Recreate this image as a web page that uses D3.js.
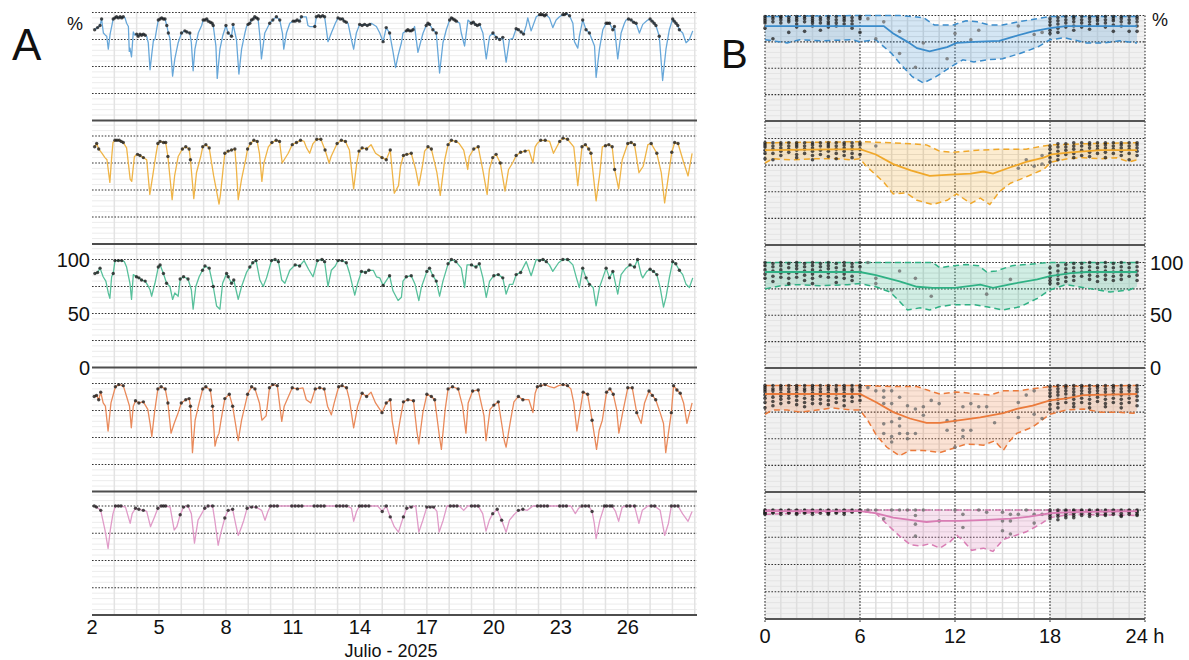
<!DOCTYPE html>
<html><head><meta charset="utf-8">
<script src="https://cdn.jsdelivr.net/npm/d3@7"></script>
<style>body{margin:0;background:#fff;}svg{display:block;font-family:"Liberation Sans",Arial,sans-serif;}</style>
</head><body>
<svg id="c" width="1189" height="660"></svg>
<script>
// ---------------- DATA ----------------
const xTicksA = [2,5,8,11,14,17,20,23,26];
const xTicksB = [0,6,12,18,24];
const xTickLabelsB = ["0","6","12","18","24 h"];
const yTicks = [0,50,100];
const xTitleA = "Julio - 2025";

// Panel A: [day of July, %]
const blueA = [[2.12,84],[2.25,86],[2.36,88],[2.43,94],[2.51,81],[2.60,79],[2.66,78],[2.73,66],[2.81,80],[2.88,87],[2.95,94],[3.03,95],[3.10,96],[3.18,95],[3.26,96],[3.33,95],[3.40,96],[3.48,95],[3.55,90],[3.63,87],[3.67,64],[3.70,67],[3.77,59],[3.85,82],[3.92,79],[4.00,80],[4.07,78],[4.15,80],[4.22,79],[4.30,80],[4.38,79],[4.45,78],[4.52,72],[4.60,47],[4.67,60],[4.75,74],[4.82,75],[4.90,85],[4.97,93],[5.05,94],[5.12,95],[5.20,94],[5.27,94],[5.35,88],[5.42,81],[5.49,76],[5.61,41],[5.71,57],[5.86,72],[6.01,81],[6.16,83],[6.25,82],[6.38,81],[6.45,72],[6.53,46],[6.61,66],[6.76,81],[6.91,88],[6.98,93],[7.06,93],[7.14,94],[7.21,92],[7.30,91],[7.38,90],[7.43,88],[7.55,69],[7.61,39],[7.73,66],[7.85,78],[8.00,88],[8.10,81],[8.25,78],[8.32,89],[8.47,75],[8.58,43],[8.70,66],[8.85,81],[8.92,87],[8.99,89],[9.07,90],[9.14,93],[9.22,94],[9.29,96],[9.37,95],[9.44,94],[9.52,78],[9.59,57],[9.74,81],[9.96,90],[10.10,93],[10.26,96],[10.41,93],[10.53,81],[10.59,66],[10.71,81],[10.86,90],[11.01,92],[11.10,92],[11.19,93],[11.29,92],[11.38,96],[11.60,96],[11.67,88],[11.75,87],[11.90,87],[11.98,87],[12.05,96],[12.15,97],[12.23,96],[12.33,97],[12.42,96],[12.50,84],[12.57,73],[12.72,81],[12.90,90],[13.02,95],[13.12,94],[13.22,94],[13.30,92],[13.39,91],[13.47,90],[13.62,75],[13.72,66],[13.84,81],[13.99,89],[14.10,88],[14.21,89],[14.33,88],[14.44,89],[14.51,90],[14.74,87],[14.89,81],[15.04,73],[15.18,86],[15.33,81],[15.48,64],[15.60,49],[15.71,60],[15.86,72],[15.93,81],[16.08,83],[16.15,84],[16.23,83],[16.30,83],[16.38,84],[16.45,87],[16.60,63],[16.75,75],[16.83,81],[16.97,88],[17.05,90],[17.12,89],[17.27,84],[17.42,81],[17.57,44],[17.72,72],[17.87,84],[18.02,93],[18.10,95],[18.17,94],[18.25,93],[18.32,92],[18.47,90],[18.54,81],[18.69,69],[18.84,93],[18.99,90],[19.08,91],[19.17,89],[19.26,88],[19.36,89],[19.51,81],[19.66,57],[19.81,78],[19.96,81],[20.11,77],[20.26,75],[20.40,77],[20.55,54],[20.70,75],[20.85,76],[21.00,85],[21.10,84],[21.22,82],[21.33,80],[21.45,88],[21.52,95],[21.67,83],[21.90,96],[22.05,98],[22.12,98],[22.19,98],[22.27,97],[22.34,98],[22.49,95],[22.64,86],[22.79,93],[22.94,96],[23.09,98],[23.16,98],[23.24,99],[23.39,97],[23.54,90],[23.61,73],[23.76,67],[23.83,78],[23.98,93],[24.13,84],[24.28,81],[24.51,69],[24.58,40],[24.73,66],[24.88,84],[25.03,90],[25.10,90],[25.18,90],[25.33,84],[25.40,87],[25.55,57],[25.70,81],[25.85,90],[25.92,93],[26.03,94],[26.15,93],[26.26,91],[26.37,90],[26.52,81],[26.67,89],[26.89,93],[27.00,94],[27.09,92],[27.18,90],[27.26,88],[27.41,78],[27.56,37],[27.71,66],[27.86,84],[28.01,94],[28.08,92],[28.16,90],[28.24,88],[28.31,84],[28.46,81],[28.61,72],[28.76,75],[28.91,83]];

const orangeA = [[2.12,90],[2.21,93],[2.30,88],[2.45,84],[2.58,80],[2.67,78],[2.80,57],[2.88,80],[2.94,94],[3.03,96],[3.12,96],[3.22,96],[3.31,95],[3.40,94],[3.55,89],[3.71,60],[3.78,58],[3.90,81],[4.04,83],[4.15,82],[4.30,80],[4.45,78],[4.59,46],[4.72,63],[4.85,81],[4.95,93],[5.05,95],[5.20,94],[5.30,94],[5.40,81],[5.50,60],[5.59,41],[5.70,63],[5.86,81],[6.05,88],[6.20,90],[6.35,88],[6.41,78],[6.56,42],[6.68,66],[6.87,81],[6.96,90],[7.10,92],[7.25,89],[7.45,63],[7.69,37],[7.75,45],[7.87,69],[7.95,84],[8.10,86],[8.25,87],[8.40,88],[8.47,69],[8.55,41],[8.70,60],[8.88,78],[8.97,88],[9.10,93],[9.25,96],[9.40,95],[9.50,84],[9.61,58],[9.70,75],[9.90,90],[10.06,94],[10.25,96],[10.40,95],[10.52,75],[10.61,78],[10.79,84],[10.97,92],[11.16,94],[11.34,96],[11.50,95],[11.61,89],[11.75,84],[11.90,93],[12.07,97],[12.25,97],[12.44,87],[12.62,75],[12.71,81],[12.98,93],[13.17,96],[13.35,95],[13.53,87],[13.72,51],[13.86,75],[13.96,86],[14.10,89],[14.30,88],[14.50,92],[14.70,84],[14.99,80],[15.18,78],[15.36,87],[15.54,47],[15.73,54],[15.82,72],[15.95,82],[16.10,83],[16.30,84],[16.50,69],[16.64,54],[16.80,72],[16.90,86],[17.05,90],[17.20,88],[17.45,66],[17.60,45],[17.80,78],[17.95,92],[18.10,96],[18.30,95],[18.45,93],[18.65,87],[18.83,69],[18.90,81],[19.10,88],[19.30,90],[19.50,69],[19.70,46],[19.80,69],[19.95,80],[20.10,83],[20.29,75],[20.50,49],[20.66,69],[20.84,75],[21.00,82],[21.20,85],[21.40,86],[21.57,87],[21.75,75],[21.85,90],[21.94,93],[22.10,96],[22.30,96],[22.50,95],[22.67,84],[22.95,95],[23.10,98],[23.30,97],[23.58,90],[23.76,54],[23.95,90],[24.10,92],[24.25,88],[24.35,84],[24.58,40],[24.75,66],[24.86,90],[25.00,91],[25.15,92],[25.30,90],[25.41,69],[25.59,51],[25.75,78],[26.00,93],[26.15,94],[26.30,92],[26.50,66],[26.69,72],[26.90,92],[27.05,93],[27.30,84],[27.50,66],[27.65,38],[27.78,57],[27.97,85],[28.10,94],[28.25,93],[28.51,75],[28.70,63],[28.88,84]];

const greenA = [[2.13,87],[2.25,88],[2.36,92],[2.50,84],[2.62,80],[2.73,69],[2.80,64],[2.88,84],[2.95,87],[3.03,99],[3.18,99],[3.33,99],[3.45,98],[3.55,93],[3.70,78],[3.77,63],[3.85,86],[3.99,84],[4.10,83],[4.22,81],[4.38,80],[4.50,76],[4.60,72],[4.67,66],[4.82,78],[4.97,93],[5.05,95],[5.20,87],[5.34,78],[5.49,75],[5.61,63],[5.71,69],[5.86,66],[5.95,82],[6.10,84],[6.30,82],[6.45,72],[6.53,54],[6.65,75],[6.80,84],[6.95,90],[7.06,94],[7.25,92],[7.43,75],[7.58,57],[7.73,54],[7.85,78],[8.03,87],[8.10,84],[8.25,78],[8.35,81],[8.55,63],[8.70,75],[8.92,88],[9.07,93],[9.20,97],[9.35,99],[9.52,81],[9.67,75],[9.82,83],[10.04,99],[10.20,100],[10.35,98],[10.50,81],[10.64,78],[10.86,90],[11.10,95],[11.30,94],[11.50,99],[11.70,91],[11.90,84],[12.10,99],[12.30,100],[12.42,98],[12.57,75],[12.72,90],[12.90,94],[13.02,99],[13.20,99],[13.39,97],[13.54,87],[13.77,67],[13.90,78],[14.07,89],[14.25,88],[14.40,90],[14.60,90],[14.74,84],[14.89,83],[15.04,76],[15.33,85],[15.48,71],[15.71,62],[15.86,65],[15.93,80],[16.08,84],[16.30,85],[16.47,77],[16.64,62],[16.75,74],[17.00,89],[17.12,92],[17.27,85],[17.42,80],[17.57,66],[17.72,80],[17.95,96],[18.10,100],[18.30,98],[18.54,92],[18.69,74],[18.80,95],[19.00,95],[19.20,93],[19.35,96],[19.51,83],[19.66,65],[19.81,80],[20.00,85],[20.20,86],[20.40,83],[20.55,68],[20.70,77],[20.85,77],[21.00,86],[21.20,88],[21.45,98],[21.67,85],[21.90,100],[22.05,99],[22.20,100],[22.35,98],[22.49,95],[22.64,89],[22.90,97],[23.09,100],[23.30,100],[23.54,95],[23.70,83],[23.83,74],[23.98,92],[24.13,83],[24.28,77],[24.45,74],[24.58,57],[24.73,74],[24.88,83],[25.03,92],[25.18,83],[25.33,89],[25.55,68],[25.70,86],[25.92,92],[26.10,95],[26.30,93],[26.44,100],[26.60,86],[26.67,83],[26.85,89],[27.00,91],[27.15,89],[27.30,86],[27.45,74],[27.60,56],[27.71,65],[27.86,83],[28.01,98],[28.15,96],[28.31,90],[28.46,86],[28.61,77],[28.76,74],[28.91,83]];

const vermA = [[2.10,88],[2.20,89],[2.30,85],[2.39,92],[2.50,82],[2.60,79],[2.72,56],[2.85,82],[3.05,97],[3.20,99],[3.40,98],[3.55,88],[3.68,79],[3.76,59],[3.85,79],[3.95,84],[4.10,82],[4.30,83],[4.50,76],[4.60,63],[4.68,51],[4.80,73],[4.95,95],[5.10,97],[5.28,95],[5.40,82],[5.54,54],[5.68,63],[5.86,73],[6.00,82],[6.20,85],[6.35,86],[6.41,79],[6.50,36],[6.62,66],[6.80,82],[6.96,95],[7.10,97],[7.30,94],[7.40,79],[7.51,42],[7.60,50],[7.69,54],[7.78,66],[7.95,86],[8.15,90],[8.30,79],[8.55,47],[8.70,66],[8.97,90],[9.15,97],[9.30,95],[9.50,82],[9.61,66],[9.80,70],[9.95,96],[10.10,99],[10.30,98],[10.50,65],[10.61,79],[10.97,96],[11.20,95],[11.45,96],[11.60,85],[11.80,82],[12.00,95],[12.20,96],[12.40,95],[12.55,79],[12.72,71],[12.85,82],[13.05,97],[13.20,98],[13.40,96],[13.53,85],[13.72,59],[13.90,79],[14.10,91],[14.30,88],[14.50,92],[14.70,82],[14.99,73],[15.18,82],[15.36,85],[15.45,65],[15.63,44],[15.80,66],[15.95,83],[16.15,85],[16.40,84],[16.55,56],[16.64,44],[16.82,73],[17.00,90],[17.20,88],[17.35,85],[17.55,53],[17.65,39],[17.82,76],[17.95,95],[18.15,97],[18.40,95],[18.60,79],[18.75,54],[18.85,82],[19.05,93],[19.30,94],[19.56,70],[19.65,47],[19.83,76],[20.00,80],[20.20,83],[20.47,47],[20.55,41],[20.75,66],[20.90,83],[21.10,88],[21.30,85],[21.57,85],[21.75,73],[21.85,91],[21.95,97],[22.10,98],[22.30,99],[22.50,97],[22.70,96],[22.90,98],[23.10,99],[23.30,98],[23.45,95],[23.58,82],[23.72,56],[23.85,73],[24.00,92],[24.20,90],[24.40,66],[24.60,39],[24.72,57],[24.86,66],[25.05,92],[25.20,95],[25.35,90],[25.50,76],[25.60,54],[25.77,73],[26.00,96],[26.20,96],[26.40,73],[26.60,63],[26.75,82],[26.95,93],[27.10,89],[27.25,85],[27.45,73],[27.60,63],[27.70,36],[27.82,54],[27.95,73],[28.05,98],[28.20,94],[28.35,91],[28.50,82],[28.65,63],[28.88,82]];

const pinkA = [[2.10,100],[2.20,99],[2.39,96],[2.58,78],[2.72,61],[2.82,78],[2.94,93],[3.05,100],[3.18,100],[3.30,100],[3.50,99],[3.71,84],[3.80,93],[3.95,98],[4.10,97],[4.30,96],[4.45,95],[4.62,81],[4.80,90],[4.95,98],[5.10,100],[5.20,100],[5.30,100],[5.50,99],[5.68,78],[5.80,81],[5.95,92],[6.10,99],[6.30,100],[6.45,93],[6.59,66],[6.75,87],[7.05,98],[7.20,100],[7.40,100],[7.50,87],[7.65,64],[7.78,76],[7.95,89],[8.10,96],[8.30,97],[8.45,82],[8.55,73],[8.70,81],[8.80,87],[8.95,98],[9.15,99],[9.35,99],[9.60,96],[9.75,87],[9.88,95],[10.00,100],[10.15,100],[10.30,100],[10.45,100],[10.60,100],[10.80,100],[10.95,100],[11.10,100],[11.25,100],[11.40,100],[11.60,100],[11.80,100],[11.95,100],[12.10,100],[12.25,100],[12.40,100],[12.60,100],[12.80,100],[12.95,100],[13.10,100],[13.25,100],[13.40,100],[13.62,98],[13.72,86],[13.85,95],[13.98,100],[14.10,100],[14.25,100],[14.40,100],[14.60,100],[14.80,100],[15.00,95],[15.18,100],[15.36,90],[15.54,81],[15.73,76],[15.85,84],[15.95,90],[16.10,98],[16.30,99],[16.50,100],[16.64,76],[16.82,87],[17.00,99],[17.15,99],[17.30,99],[17.45,95],[17.55,76],[17.73,87],[17.90,100],[18.05,100],[18.20,100],[18.35,100],[18.45,100],[18.65,96],[18.83,100],[19.00,100],[19.15,100],[19.30,100],[19.50,93],[19.65,77],[19.80,87],[19.95,93],[20.15,97],[20.35,87],[20.55,76],[20.70,87],[20.90,92],[21.10,96],[21.30,97],[21.50,96],[21.75,100],[21.95,100],[22.10,100],[22.25,100],[22.40,100],[22.60,100],[22.80,100],[22.95,100],[23.10,100],[23.25,100],[23.45,100],[23.65,93],[23.80,98],[23.95,100],[24.10,100],[24.25,100],[24.40,95],[24.50,84],[24.58,70],[24.75,87],[24.95,100],[25.05,100],[25.20,100],[25.30,100],[25.45,95],[25.59,86],[25.75,99],[25.95,100],[26.10,100],[26.30,100],[26.50,84],[26.65,96],[26.90,100],[27.05,100],[27.20,100],[27.45,96],[27.65,73],[27.82,84],[27.95,100],[28.10,100],[28.25,100],[28.45,93],[28.70,86],[28.88,95]];

// Panel B: hourly profiles [hour, %]
const blueUpper = [[0,99],[6,100],[8.5,100],[10,98],[10.7,91],[11.9,91],[12.7,95],[13.4,94],[14.2,91],[15,91],[16,94],[17.2,97],[18,99],[23.5,99]];
const blueLower = [[0,77],[1.4,74],[2.2,77],[3.5,76],[5.5,77],[6,75],[7,77],[8,64],[8.5,55],[9.3,42],[10,36],[10.8,42],[11.7,51],[12.5,58],[13.2,56],[14,58],[15,59],[16.1,64],[17.2,70],[18,77],[18.9,79],[20.3,74],[21.4,74],[22.4,76],[23.5,74]];
const blueMedian = [[0,90],[6,90],[7.5,90],[8.1,83],[9,75],[9.6,69],[10.4,66],[11.5,70],[12.1,74],[13.2,75],[14.8,76],[15.7,80],[16.9,85],[18,88],[19,90],[23.5,90]];

const orangeUpper = [[0,96],[6,97],[8,96],[9.2,95],[10.2,94],[11.05,88],[11.9,87],[13.4,89],[15,90],[16.5,90],[17.6,93],[18.1,94],[20,95],[23.5,96]];
const orangeLower = [[0,77],[0.5,81],[1.6,80],[3.3,81],[4.5,81],[5.4,80],[6,81],[6.4,74],[7.5,59],[8.1,48],[8.9,49],[9.6,42],[10.6,38],[11.5,42],[12.1,48],[13,39],[13.6,44],[14.2,38],[14.8,50],[15.5,58],[16.5,64],[17.6,71],[18.1,78],[19.1,81],[20.1,82],[21.2,81],[22.2,82],[23,78],[23.5,80]];
const orangeMedian = [[0,89],[6,90],[7,85],[8.1,76],[9.2,70],[10.4,65],[11.7,66],[13,67],[13.8,69],[14.4,67],[15.5,73],[16.5,78],[17.6,82],[18.1,85],[19.3,87],[21.2,89],[23.5,89]];

const greenUpper = [[0,100],[6,100],[10.6,100],[11.05,95],[11.9,97],[12.7,98],[13.5,97],[14,91],[14.6,92],[15.6,97],[17.2,99],[18,100],[23.5,100]];
const greenLower = [[0,75],[1,78],[2,79],[3.5,78],[5.2,79],[6,80],[7,77],[7.9,72],[8.5,63],[9,55],[9.8,57],[10.4,55],[11,58],[11.9,60],[13.2,60],[14,58],[15,55],[16.1,58],[17.2,66],[18,74],[19,79],[21,74],[21.8,72],[23,74],[23.5,77]];
const greenMedian = [[0,91],[6,91],[7,88],[8.5,82],[9.6,77],[10.6,76],[12,76],[13.6,79],[14.4,76],[15.7,80],[17.2,84],[18,87],[19.3,90],[20.3,91],[23.5,91]];

const vermUpper = [[0,100],[6,100],[8,99],[9.6,99],[10.4,95],[11.05,92],[12.1,94],[13.4,92],[14.2,91],[15.05,95],[16,95],[16.9,97],[18,99],[23.5,100]];
const vermLower = [[0,73],[0.5,77],[1.4,77],[2.2,75],[3.3,77],[4.3,79],[5.4,77],[6,77],[6.5,67],[7.05,53],[7.7,42],[8.5,34],[9.15,39],[10,39],[11.05,37],[11.9,41],[12.7,45],[13.8,44],[14.5,48],[15.05,39],[15.4,47],[15.9,55],[16.9,61],[18,73],[19.05,77],[20.1,78],[21.2,75],[22.2,75],[23.3,74],[23.5,77]];
const vermMedian = [[0,92],[6,92],[7.05,84],[8.1,75],[9.15,69],[10.2,65],[11.05,65],[12.1,67],[13.6,70],[15.05,74],[15.9,78],[16.9,81],[18,86],[19.05,88],[20.1,91],[23.5,92]];

const pinkUpper = [[0,100],[6,100],[12,100],[18,100],[23.5,100]];
const pinkLower = [[0,96],[6,99],[7,97],[7.7,87],[8.5,76],[9.2,68],[9.8,67],[10.4,69],[11.05,65],[11.7,71],[12.1,77],[12.5,72],[13.05,63],[13.8,65],[14.4,62],[15.05,73],[15.7,76],[16.5,80],[17.4,87],[18,93],[19.3,96],[23.5,95]];
const pinkMedian = [[0,99],[6,99],[7.05,97],[8.1,93],[9.15,91],[10.2,89],[11,90],[12.3,90],[14,91],[15.5,92],[16.7,94],[18,97],[19.3,98],[23.5,99]];

// B scatter: night columns (half-hour slots) and day readings
const nightHours = [0,0.5,1,1.5,2,2.5,3,3.5,4,4.5,5,5.5,6,18,18.5,19,19.5,20,20.5,21,21.5,22,22.5,23,23.5];
const blueNight = [[99,97,95,93,88],[99,97,94,78],[99,98,96,93],[98,96,94,84],[99,97,95,92,89],[99,97,94,85],[99,97,95,93,90],[98,96,93,86],[99,97,94,92,89],[99,96,93,90],[99,97,95,92],[98,95,92,88],[99,97,84],[97,94,91,86,83],[98,95,92,88,84],[99,96,93,89],[99,97,94,90,86],[99,96,93,89],[99,97,94,91,87],[99,97,95,92],[99,96,93,89],[99,97,95,91,85],[99,97,94,90],[99,96,93,85],[99,97,94,90,85]];
const orangeNight = [[96,94,92,89,86,81],[96,93,90,86,80],[96,94,91,88,84],[96,93,90,87],[96,94,92,89,85,82],[96,93,90,86],[96,94,91,88,84,80],[96,93,89,85],[96,94,92,88,83],[96,93,90,86,81],[96,94,91,88,84],[96,93,90,86,82],[96,94,90,85],[93,90,86,82,78],[95,92,88,84,80],[95,92,89,85],[96,93,90,86,82],[96,93,89,84],[96,94,91,87,83],[96,93,90,86],[96,94,91,87,82],[96,93,90,86],[96,94,91,88,84],[96,93,90,86,80],[96,94,91,88,84]];
const greenNight = [[100,97,93,89,85],[99,96,92,87,82],[100,97,93,90,86],[99,95,90,85,80],[100,97,94,90,86],[99,96,92,88,83],[100,97,93,89,85,80],[99,96,92,87],[100,97,94,90,86],[99,95,91,86,81],[100,97,93,89,85],[99,96,92,87,83],[100,96,91],[95,90,86,83,80],[97,92,88,84,80],[98,94,90,86,82],[99,95,91,87,83],[99,95,91,87],[100,96,92,88,84],[99,95,91,87,82],[100,96,92,88,84],[99,95,91,87,83],[100,96,92,88,84],[99,95,91,87],[100,96,92,88,83]];
const vermNight = [[100,98,96,94,91,88,84,79],[100,97,95,92,89,85,81],[100,98,96,93,90,87,83],[100,97,94,91,88,84],[100,98,96,93,90,86,82],[100,97,95,92,88,84,80],[100,98,96,93,90,87,83],[100,97,94,91,87,83],[100,98,96,93,90,86,82],[100,97,95,92,88,84],[100,98,96,93,90,86,81],[100,97,95,92,89,85],[100,98,95,91,86],[99,96,93,90,86,82,78],[100,97,94,91,87,83,79],[100,98,95,92,88,84],[100,97,94,91,87,83,80],[100,98,95,92,88,84],[100,97,94,91,87,83,79],[100,98,95,92,89,85],[100,97,94,91,87,83,80],[100,98,95,92,88,84],[100,97,94,91,87,83,79],[100,98,95,92,88,84],[100,97,94,90,86,81]];
const pinkNight = [[100,99,98,97,96],[100,99,98,97],[100,99,98,96],[100,99,98,97],[100,99,97,96],[100,99,98,97],[100,99,98,96],[100,99,97],[100,99,98,97,96],[100,99,98,97],[100,99,98,96],[100,99,98],[100,99,98],[100,98,96,94,92],[100,98,96,94,91],[100,99,97,95,93],[100,99,97,95,93],[100,99,97,95],[100,99,98,96,94],[100,99,97,95],[100,99,98,96,95],[100,99,98,96],[100,99,97,95,94],[100,99,98,96],[100,99,98,96,95]];
const blueDay = [[6.5,97],[7,78],[7.5,94],[8.5,85],[8.5,64],[9.5,51],[10,74],[11.5,59],[12,83],[13,77],[13.5,86],[16,90],[17,82],[17.5,84]];
const orangeDay = [[7,93],[16,72],[16.5,80],[17,74],[17.5,76],[17.5,84]];
const greenDay = [[6.5,100],[7,85],[7,80],[8,74],[8.5,92],[9.5,85],[10.5,68],[14,70],[15.5,84]];
const vermDay = [[6.5,98],[7,95],[7.5,95],[7.5,89],[7.5,83],[7.5,64],[7.5,55],[8,95],[8,83],[8,66],[8,52],[8,47],[8.5,89],[8.5,69],[8.5,62],[8.5,55],[9,81],[9,55],[9,50],[9.5,78],[9.5,55],[10,80],[10,72],[10.5,86],[11,83],[11.5,67],[11.5,58],[12,67],[12,42],[12.5,80],[12.5,58],[12.5,52],[13,83],[13,58],[13.5,80],[14,80],[14.5,65],[16,84],[16,70],[16.5,91],[17,95],[17,73],[17.5,69]];
const pinkDay = [[6.5,100],[7,100],[7.5,92],[8,100],[8.5,100],[9,100],[9.5,100],[9.5,95],[9.5,87],[9.5,76],[10,100],[11,90],[12,100],[12.5,96],[12.5,84],[13.5,100],[14,98],[15,98],[15,90],[15,81],[15.5,96],[15.5,90],[15.5,78],[16,96],[16.5,100],[17,96],[17,88],[17.5,96]];

// ---------------- DRAW ----------------
const seriesA = [blueA, orangeA, greenA, vermA, pinkA];
const bandsB = [
  {up:blueUpper, lo:blueLower, med:blueMedian, night:blueNight, day:blueDay},
  {up:orangeUpper, lo:orangeLower, med:orangeMedian, night:orangeNight, day:orangeDay},
  {up:greenUpper, lo:greenLower, med:greenMedian, night:greenNight, day:greenDay},
  {up:vermUpper, lo:vermLower, med:vermMedian, night:vermNight, day:vermDay},
  {up:pinkUpper, lo:pinkLower, med:pinkMedian, night:pinkNight, day:pinkDay}
];
const colA = ["#67a7d9","#efb447","#58c09b","#e98a5b","#e09bc8"];
const colB = ["#3b8ccb","#f0a82a","#2fb184","#eb7a3b","#d97db4"];

const svg = d3.select("#c");
const aLeft = 92, aRight = 697;
const xA = d3.scaleLinear().domain([2, 29.1]).range([aLeft, aRight]);
const xB = d3.scaleLinear().domain([0, 24]).range([765, 1145]);
const aZero = [120.5, 244, 367.5, 491.5, 615], aTop = [12.5, 136, 259.5, 383.5, 506];
const bZero = [121, 245, 368, 492, 619], bTop = [15.5, 138.5, 262.5, 385.5, 510];
const yA = aZero.map((z,i)=>d3.scaleLinear().domain([0,100]).range([z, aTop[i]]));
const yB = bZero.map((z,i)=>d3.scaleLinear().domain([0,100]).range([z, bTop[i]]));
const majors = [25,50,75,100];
const minors = d3.range(5,115,5).filter(v=>v%25!==0);

function hline(g, x1, x2, y, stroke, w, dash){
  const l = g.append("line").attr("x1",x1).attr("x2",x2).attr("y1",y).attr("y2",y)
    .attr("stroke",stroke).attr("stroke-width",w);
  if(dash) l.attr("stroke-dasharray",dash);
  return l;
}
function vline(g, x, y1, y2, stroke, w, dash){
  const l = g.append("line").attr("x1",x).attr("x2",x).attr("y1",y1).attr("y2",y2)
    .attr("stroke",stroke).attr("stroke-width",w);
  if(dash) l.attr("stroke-dasharray",dash);
  return l;
}

// ===== Panel A =====
const gA = svg.append("g");
const gridA = gA.append("g");
for(let i=0;i<5;i++){
  const minY = i===0 ? aTop[0]-0.5 : aZero[i-1]+2;
  minors.forEach(v=>{ const y=yA[i](v); if(y>=minY) hline(gridA,aLeft,aRight,y,"#ececec",1); });
}
d3.range(3,30).forEach(d=>vline(gridA, xA(d), aTop[0], aZero[4], "#e3e3e3", 1.5));
for(let i=0;i<5;i++){
  majors.forEach(v=>hline(gridA,aLeft,aRight,yA[i](v),"#333",1.1,"1.6,1.6"));
  hline(gridA,aLeft,aRight,aZero[i],"#4d4d4d",2);
}
const isNightA = d => ((d + 0.05) % 1) < 0.5;
seriesA.forEach((data,i)=>{
  const line = d3.line().x(p=>xA(p[0])).y(p=>yA[i](p[1]));
  gA.append("path").datum(data).attr("d",line).attr("fill","none")
    .attr("stroke",colA[i]).attr("stroke-width",1.3).attr("stroke-linejoin","round");
  gA.append("g").selectAll("circle").data(data.filter(p=>isNightA(p[0]))).join("circle")
    .attr("cx",p=>xA(p[0])).attr("cy",p=>yA[i](p[1])).attr("r",1.7)
    .attr("fill","#1e1e1e").attr("fill-opacity",0.8);
});
// A axis labels
gA.append("g").selectAll("text").data(xTicksA).join("text")
  .attr("x",d=>xA(d)).attr("y",634).attr("text-anchor","middle")
  .attr("font-size",20).attr("fill","#111").text(d=>d);
gA.append("text").attr("x",391).attr("y",657).attr("text-anchor","middle")
  .attr("font-size",18).attr("fill","#111").text(xTitleA);
gA.append("g").selectAll("text").data(yTicks).join("text")
  .attr("x",90).attr("y",d=>yA[2](d)+7).attr("text-anchor","end")
  .attr("font-size",20).attr("fill","#111").text(d=>d);
gA.append("text").attr("x",67).attr("y",30).attr("font-size",18).attr("fill","#111").text("%");
svg.append("text").attr("x",12).attr("y",60).attr("font-size",44).attr("fill","#111").text("A");

// ===== Panel B =====
const gB = svg.append("g");
const gridB = gB.append("g");
[[0,6],[18,24]].forEach(r=>gridB.append("rect").attr("x",xB(r[0])).attr("width",xB(r[1])-xB(r[0]))
  .attr("y",bTop[0]).attr("height",bZero[4]-bTop[0]).attr("fill","#f1f1f1"));
for(let i=0;i<5;i++){
  const minY = i===0 ? bTop[0]-0.5 : bZero[i-1]+2;
  minors.forEach(v=>{ const y=yB[i](v); if(y>=minY) hline(gridB,765,1145,y,"#e4e4e4",1); });
}
d3.range(1,24).filter(h=>h%6!==0).forEach(h=>vline(gridB,xB(h),bTop[0],bZero[4],"#dedede",1.5));
for(let i=0;i<5;i++){
  majors.forEach(v=>hline(gridB,765,1145,yB[i](v),"#333",1.1,"1.6,1.6"));
}
xTicksB.forEach(h=>vline(gridB,xB(h),bTop[0],bZero[4]+3,"#333",1.1,"1.6,1.6"));
for(let i=0;i<5;i++) hline(gridB,765,1145,bZero[i],"#555",2);

bandsB.forEach((s,i)=>{
  const y = yB[i];
  const pt = p=>[xB(p[0]), y(p[1])];
  const poly = s.up.map(pt).concat(s.lo.slice().reverse().map(pt));
  gB.append("path").attr("d", d3.line()(poly)+"Z").attr("fill",colB[i]).attr("fill-opacity",0.22).attr("stroke","none");
  const ln = d3.line().x(p=>xB(p[0])).y(p=>y(p[1]));
  [s.up, s.lo].forEach(b=>gB.append("path").datum(b).attr("d",ln).attr("fill","none")
    .attr("stroke",colB[i]).attr("stroke-width",1.5).attr("stroke-dasharray","6,4"));
  const pts = [];
  s.night.forEach((col,k)=>col.forEach(v=>pts.push([nightHours[k], v, 1])));
  s.day.forEach(p=>pts.push([p[0], p[1], 0]));
  gB.append("g").selectAll("circle").data(pts).join("circle")
    .attr("cx",p=>xB(p[0])).attr("cy",p=>y(p[1])).attr("r",1.8)
    .attr("fill",p=>p[2]?"#1c1c1c":"#6e6e6e").attr("fill-opacity",p=>p[2]?0.75:0.8);
  gB.append("path").datum(s.med).attr("d",ln).attr("fill","none")
    .attr("stroke",colB[i]).attr("stroke-width",1.8);
});
gB.append("g").selectAll("text").data(xTicksB).join("text")
  .attr("x",d=>xB(d)).attr("y",643).attr("text-anchor","middle")
  .attr("font-size",20).attr("fill","#111").text((d,k)=>xTickLabelsB[k]);
gB.append("g").selectAll("text").data(yTicks).join("text")
  .attr("x",1150).attr("y",d=>yB[2](d)+7).attr("text-anchor","start")
  .attr("font-size",20).attr("fill","#111").text(d=>d);
gB.append("text").attr("x",1152).attr("y",26).attr("font-size",18).attr("fill","#111").text("%");
svg.append("text").attr("x",721).attr("y",68).attr("font-size",40).attr("fill","#111").text("B");
</script>
</body></html>
